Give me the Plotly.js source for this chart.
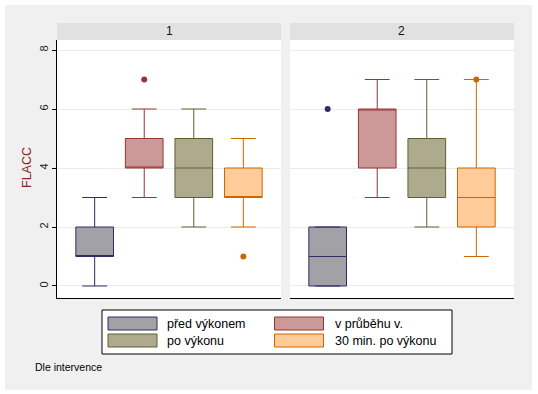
<!DOCTYPE html>
<html>
<head>
<meta charset="utf-8">
<script src="https://cdn.plot.ly/plotly-3.0.1.min.js"></script>
<style>
html,body{margin:0;padding:0;background:#ffffff;}
#chart{position:absolute;left:5px;top:5px;width:527px;height:385px;}
</style>
</head>
<body>
<div id="chart"></div>
<script>
// ---- data ----
const groups = ['před výkonem', 'v průběhu v.', 'po výkonu', '30 min. po výkonu'];
const panels = ['1', '2'];
const positions = [0, 1, 2, 3];

// panel 1
const q1_p1     = [1, 4, 3, 3];
const median_p1 = [1, 4, 4, 3];
const q3_p1     = [2, 5, 5, 4];
const lower_p1  = [0, 3, 2, 2];
const upper_p1  = [3, 6, 6, 5];
const outGroup_p1 = [1, 3];
const outValue_p1 = [7, 1];

// panel 2
const q1_p2     = [0, 4, 3, 2];
const median_p2 = [1, 6, 4, 3];
const q3_p2     = [2, 6, 5, 4];
const lower_p2  = [0, 3, 2, 1];
const upper_p2  = [2, 7, 7, 7];
const outGroup_p2 = [0, 3];
const outValue_p2 = [6, 7];

const yTicks = [0, 2, 4, 6, 8];
const yTitle = 'FLACC';
const note = 'Dle intervence';

// ---- styles ----
const fills = ['#a1a1a6', '#cc9999', '#adaa8d', '#ffcc99'];
const lines = ['#2f2c66', '#993333', '#5f6131', '#cc6600'];

const L = 52, T = 35, W = 457, H = 258;
const px = x => (x - L) / W;
const py = y => 1 - (y - T) / H;

const stats = [
  {q1: q1_p1, med: median_p1, q3: q3_p1, lo: lower_p1, hi: upper_p1, og: outGroup_p1, ov: outValue_p1},
  {q1: q1_p2, med: median_p2, q3: q3_p2, lo: lower_p2, hi: upper_p2, og: outGroup_p2, ov: outValue_p2}
];

const traces = [];
stats.forEach((s, p) => {
  const xa = p === 0 ? 'x' : 'x2';
  const ya = p === 0 ? 'y' : 'y2';
  groups.forEach((g, i) => {
    traces.push({
      type: 'box', name: g, xaxis: xa, yaxis: ya,
      x: [positions[i]],
      q1: [s.q1[i]], median: [s.med[i]], q3: [s.q3[i]],
      lowerfence: [s.lo[i]], upperfence: [s.hi[i]],
      boxpoints: false, width: 0.76, whiskerwidth: 0.66,
      fillcolor: fills[i], line: {color: lines[i], width: 1},
      showlegend: false, hoverinfo: 'skip'
    });
  });
  traces.push({
    type: 'scatter', mode: 'markers', xaxis: xa, yaxis: ya,
    x: s.og.map(i => positions[i]), y: s.ov,
    marker: {size: 6, color: s.og.map(i => lines[i])},
    showlegend: false, hoverinfo: 'skip'
  });
});

const shapes = [];
const annotations = [];

// facet headers
const domains = [[0, 224 / W], [(285 - L) / W, 1]];
panels.forEach((p, k) => {
  shapes.push({type: 'rect', xref: 'paper', yref: 'paper',
    x0: domains[k][0], x1: domains[k][1], y0: 1, y1: py(18),
    fillcolor: '#e1e1e1', line: {width: 0}, layer: 'below'});
  annotations.push({xref: 'paper', yref: 'paper',
    x: (domains[k][0] + domains[k][1]) / 2, y: py(26.5),
    text: p, showarrow: false, xanchor: 'center', yanchor: 'middle',
    font: {size: 12, color: '#111111'}});
});

// legend box
shapes.push({type: 'rect', xref: 'paper', yref: 'paper',
  x0: px(97), x1: px(447), y0: py(305), y1: py(349),
  fillcolor: '#ffffff', line: {color: '#000000', width: 1}});
const legCols = [[103, 160], [269.5, 328]];
const legRows = [[312, 325], [329, 342]];
groups.forEach((g, i) => {
  const c = legCols[i % 2], r = legRows[Math.floor(i / 2)];
  shapes.push({type: 'rect', xref: 'paper', yref: 'paper',
    x0: px(c[0]), x1: px(c[0] + 49), y0: py(r[0]), y1: py(r[1]),
    fillcolor: fills[i], line: {color: lines[i], width: 1}});
  annotations.push({xref: 'paper', yref: 'paper',
    x: px(c[1]), y: py((r[0] + r[1]) / 2), text: g, showarrow: false,
    xanchor: 'left', yanchor: 'middle',
    font: {size: 12.5, color: '#000000'}});
});

// y title
annotations.push({xref: 'paper', yref: 'paper', x: px(22), y: py(163),
  text: yTitle, textangle: -90, showarrow: false, xanchor: 'center', yanchor: 'middle',
  font: {size: 12.5, color: '#8b2323'}});

// note
annotations.push({xref: 'paper', yref: 'paper', x: px(28), y: py(362),
  text: note, showarrow: false, xanchor: 'left', yanchor: 'middle',
  font: {size: 10.5, color: '#000000'}});

const yCommon = {
  range: [-0.407, 8.339], tickvals: yTicks, ticktext: yTicks.map(String),
  showgrid: true, gridcolor: '#ebebeb', gridwidth: 1, zeroline: false,
  fixedrange: true
};
const xCommon = {
  range: [-0.76, 3.76], showgrid: false, zeroline: false, showticklabels: false,
  ticks: '', showline: true, linecolor: '#000000', linewidth: 1, fixedrange: true
};

const layout = {
  width: 527, height: 385,
  margin: {l: L, r: 527 - L - W, t: T, b: 385 - T - H},
  paper_bgcolor: '#f0f0f0', plot_bgcolor: '#ffffff',
  font: {family: 'Arial, "Liberation Sans", sans-serif', color: '#222222'},
  showlegend: false,
  xaxis: Object.assign({}, xCommon, {domain: domains[0], anchor: 'y'}),
  xaxis2: Object.assign({}, xCommon, {domain: domains[1], anchor: 'y2'}),
  yaxis: Object.assign({}, yCommon, {domain: [0, 1], anchor: 'x',
    showline: true, linecolor: '#000000', linewidth: 1,
    ticks: 'outside', ticklen: 4, tickcolor: '#000000', tickangle: -90,
    tickfont: {size: 11, color: '#222222'}}),
  yaxis2: Object.assign({}, yCommon, {domain: [0, 1], anchor: 'x2',
    showline: false, ticks: '', showticklabels: false}),
  shapes: shapes,
  annotations: annotations
};

Plotly.newPlot('chart', traces, layout, {staticPlot: true, displayModeBar: false});
</script>
</body>
</html>
